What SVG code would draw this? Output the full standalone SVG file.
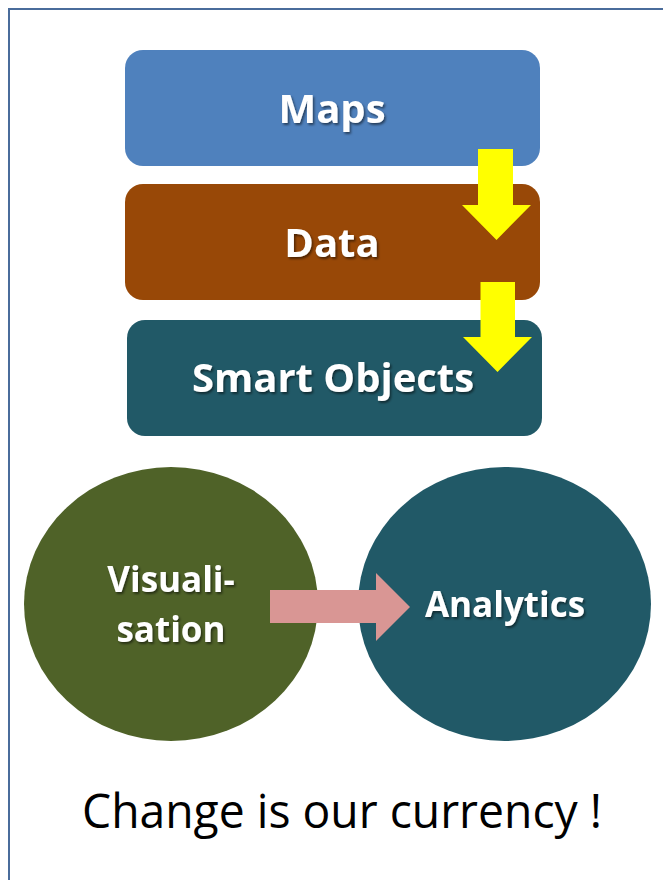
<svg xmlns="http://www.w3.org/2000/svg" width="663" height="880" viewBox="0 0 663 880">
<defs>
<filter id="ts" x="-10%" y="-10%" width="130%" height="140%">
<feDropShadow dx="1.5" dy="2" stdDeviation="1" flood-color="#000" flood-opacity="0.5"/>
</filter>
</defs>
<style>
.lbl{font-family:"Open Sans","Liberation Sans",sans-serif;font-weight:bold;fill:#fff;text-anchor:middle;filter:url(#ts)}
.box{stroke:none}
.yarrow{fill:#ffff00}
</style>
<rect x="0" y="0" width="663" height="880" fill="#fff"/>
<rect id="frame" x="9" y="9" width="720" height="920" fill="none" stroke="#4a6c9b" stroke-width="2"/>
<g id="maps">
<rect class="box" x="125" y="50" width="415" height="116" rx="18" fill="#4f81bd"/>
<text class="lbl" x="332" y="123" font-size="40">Maps</text>
</g>
<g id="data">
<rect class="box" x="125" y="184" width="415" height="116" rx="18" fill="#984807"/>
<text class="lbl" x="332" y="257" font-size="40">Data</text>
</g>
<g id="smart-objects">
<rect class="box" x="127" y="320" width="415" height="116" rx="18" fill="#215967"/>
<text class="lbl" x="333" y="392" font-size="40">Smart Objects</text>
</g>
<g id="visualisation">
<ellipse cx="171" cy="604" rx="147" ry="137" fill="#4f6228"/>
<text class="lbl" x="171" y="592" font-size="35">Visuali-</text>
<text class="lbl" x="171" y="642" font-size="35">sation</text>
</g>
<g id="analytics">
<ellipse cx="504.5" cy="604" rx="146.5" ry="137" fill="#215967"/>
<text class="lbl" x="505" y="617" font-size="35">Analytics</text>
</g>
<g id="connectors">
<polygon class="yarrow" points="478,149 513,149 513,205 531,205 496.5,240 462,205 478,205"/>
<polygon class="yarrow" points="480.5,282 515,282 515,337 532,337 497.5,372 463,337 480.5,337"/>
<polygon fill="#d99694" points="270,590 376,590 376,573 410,607 376,641 376,623 270,623"/>
</g>
<text id="caption" x="342" y="828" font-family="Open Sans, Liberation Sans, sans-serif" font-size="47" text-anchor="middle" fill="#000" textLength="520" lengthAdjust="spacingAndGlyphs">Change is our currency !</text>
</svg>
